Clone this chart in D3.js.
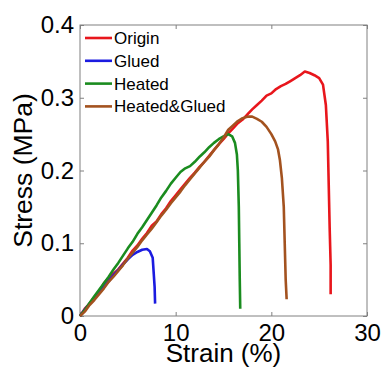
<!DOCTYPE html>
<html>
<head>
<meta charset="utf-8">
<script src="https://cdn.jsdelivr.net/npm/d3@7"></script>
<style>
  body { margin: 0; background: #fff; }
  text { font-family: "Liberation Sans", Arial, sans-serif; }
</style>
</head>
<body>
<div id="chart"></div>
<script>
// stress-strain curves, [strain %, stress MPa]
var origin = [[0,0],[0.5,0.01],[1,0.017],[1.5,0.026],[2,0.033],[2.5,0.045],[3,0.052],[3.5,0.058],[4,0.064],[4.5,0.072],
  [5,0.08],[5.5,0.09],[6,0.097],[6.5,0.106],[7,0.114],[7.5,0.124],[8,0.13],[8.5,0.14],[9,0.148],[9.5,0.158],
  [10,0.166],[10.5,0.174],[11,0.182],[11.5,0.19],[12,0.197],[12.5,0.205],[13,0.212],[13.5,0.22],[14,0.228],[14.5,0.236],
  [15,0.243],[15.5,0.251],[16,0.258],[16.5,0.265],[17,0.27],[17.5,0.277],[18,0.284],[18.5,0.29],[19,0.296],[19.5,0.303],
  [20,0.306],[20.5,0.312],[21,0.316],[21.5,0.319],[22,0.323],[22.5,0.327],[23,0.331],[23.5,0.336],[24,0.334],[24.5,0.331],
  [25,0.327],[25.4,0.318],[25.7,0.29],[25.9,0.24],[26,0.18],[26.1,0.12],[26.2,0.07],[26.2,0.03]];

var glued = [[0,0],[0.5,0.009],[1,0.017],[1.5,0.024],[2,0.032],[2.5,0.04],[3,0.048],[3.5,0.056],[4,0.063],[4.5,0.071],
  [5,0.078],[5.5,0.084],[6,0.088],[6.5,0.091],[7,0.092],[7.3,0.089],[7.6,0.08],[7.7,0.06],[7.8,0.04],[7.85,0.017]];

var heated = [[0,0],[0.5,0.008],[1,0.018],[1.5,0.027],[2,0.036],[2.5,0.045],[3,0.054],[3.5,0.064],[4,0.073],[4.5,0.083],
  [5,0.093],[5.5,0.102],[6,0.113],[6.5,0.122],[7,0.132],[7.5,0.142],[8,0.152],[8.5,0.163],[9,0.172],[9.5,0.182],
  [10,0.19],[10.5,0.198],[11,0.203],[11.5,0.206],[12,0.212],[12.5,0.219],[13,0.225],[13.5,0.232],[14,0.238],[14.5,0.243],
  [15,0.247],[15.5,0.25],[15.9,0.247],[16.2,0.238],[16.4,0.222],[16.5,0.2],[16.6,0.15],[16.65,0.1],[16.7,0.05],[16.75,0.01]];

var heatedGlued = [[0,0],[0.5,0.006],[1,0.015],[1.5,0.022],[2,0.03],[2.5,0.038],[3,0.047],[3.5,0.054],[4,0.062],[4.5,0.07],
  [5,0.079],[5.5,0.087],[6,0.095],[6.5,0.104],[7,0.112],[7.5,0.12],[8,0.129],[8.5,0.138],[9,0.146],[9.5,0.155],
  [10,0.163],[10.5,0.171],[11,0.18],[11.5,0.188],[12,0.196],[12.5,0.204],[13,0.212],[13.5,0.219],[14,0.228],[14.5,0.236],
  [15,0.245],[15.5,0.256],[16,0.262],[16.5,0.268],[17,0.272],[17.5,0.274],[18,0.274],[18.5,0.271],[19,0.267],[19.5,0.26],
  [20,0.25],[20.4,0.24],[20.7,0.229],[20.9,0.214],[21.1,0.19],[21.3,0.15],[21.4,0.1],[21.5,0.05],[21.6,0.023]];

var seriesNames = ["Origin", "Glued", "Heated", "Heated&Glued"];
var seriesColors = ["#e8161c", "#1b1be0", "#1a8c1f", "#a3521f"];
var xTicks = [0, 10, 20, 30];
var yTicks = [0, 0.1, 0.2, 0.3, 0.4];
var yTickLabels = ["0", "0.1", "0.2", "0.3", "0.4"];

var allData = [origin, glued, heated, heatedGlued];

const margin = {top: 25, right: 16, bottom: 53, left: 80},
    width = 383 - margin.left - margin.right,
    height = 369 - margin.top - margin.bottom;

var svg = d3.select("#chart")
    .append("svg")
    .attr("width", 383)
    .attr("height", 369)
    .append("g")
    .attr("transform", "translate(" + margin.left + "," + margin.top + ")");

var x = d3.scaleLinear().domain([0, 30]).range([0, width]);
var y = d3.scaleLinear().domain([0, 0.4]).range([height, 0]);

var axisColor = "#808080";

// box
svg.append("rect")
    .attr("width", width)
    .attr("height", height)
    .attr("fill", "none")
    .attr("stroke", axisColor)
    .attr("stroke-width", 1);

// ticks, inward on all four sides (matlab style)
function styleAxis(g) {
    g.select(".domain").remove();
    g.selectAll(".tick line").attr("stroke", axisColor);
    g.selectAll(".tick text").attr("fill", "#000").style("font-size", "24px");
}

svg.append("g")
    .attr("transform", "translate(0," + height + ")")
    .call(d3.axisBottom(x).tickValues(xTicks).tickSizeInner(-4).tickPadding(8).tickFormat(d3.format("d")))
    .call(styleAxis);

svg.append("g")
    .call(d3.axisTop(x).tickValues(xTicks).tickSizeInner(-4).tickFormat(""))
    .call(styleAxis);

svg.append("g")
    .call(d3.axisLeft(y).tickValues(yTicks).tickSizeInner(-4).tickPadding(6)
        .tickFormat(function(d, i) { return yTickLabels[i]; }))
    .call(styleAxis);

svg.append("g")
    .attr("transform", "translate(" + width + ",0)")
    .call(d3.axisRight(y).tickValues(yTicks).tickSizeInner(-4).tickFormat(""))
    .call(styleAxis);

// curves
var line = d3.line()
    .x(function(d) { return x(d[0]); })
    .y(function(d) { return y(d[1]); });

svg.selectAll("curve")
    .data(allData)
    .enter()
    .append("path")
    .attr("d", line)
    .attr("fill", "none")
    .attr("stroke", function(d, i) { return seriesColors[i]; })
    .attr("stroke-width", 2.6)
    .attr("stroke-linejoin", "round");

// legend (no box)
var legend = svg.selectAll("legend")
    .data(seriesNames)
    .enter()
    .append("g")
    .attr("transform", function(d, i) { return "translate(5," + (13 + i * 22.8) + ")"; });

legend.append("line")
    .attr("x1", 0).attr("x2", 27)
    .attr("stroke", function(d, i) { return seriesColors[i]; })
    .attr("stroke-width", 2.6);

legend.append("text")
    .attr("x", 29)
    .attr("dy", "0.35em")
    .style("font-size", "17px")
    .text(function(d) { return d; });

// axis labels
svg.append("text")
    .attr("x", width / 2)
    .attr("y", height + 46)
    .attr("text-anchor", "middle")
    .style("font-size", "26px")
    .text("Strain (%)");

svg.append("text")
    .attr("transform", "translate(-48," + (height / 2) + ") rotate(-90)")
    .attr("text-anchor", "middle")
    .style("font-size", "26.5px")
    .text("Stress (MPa)");
</script>
</body>
</html>
